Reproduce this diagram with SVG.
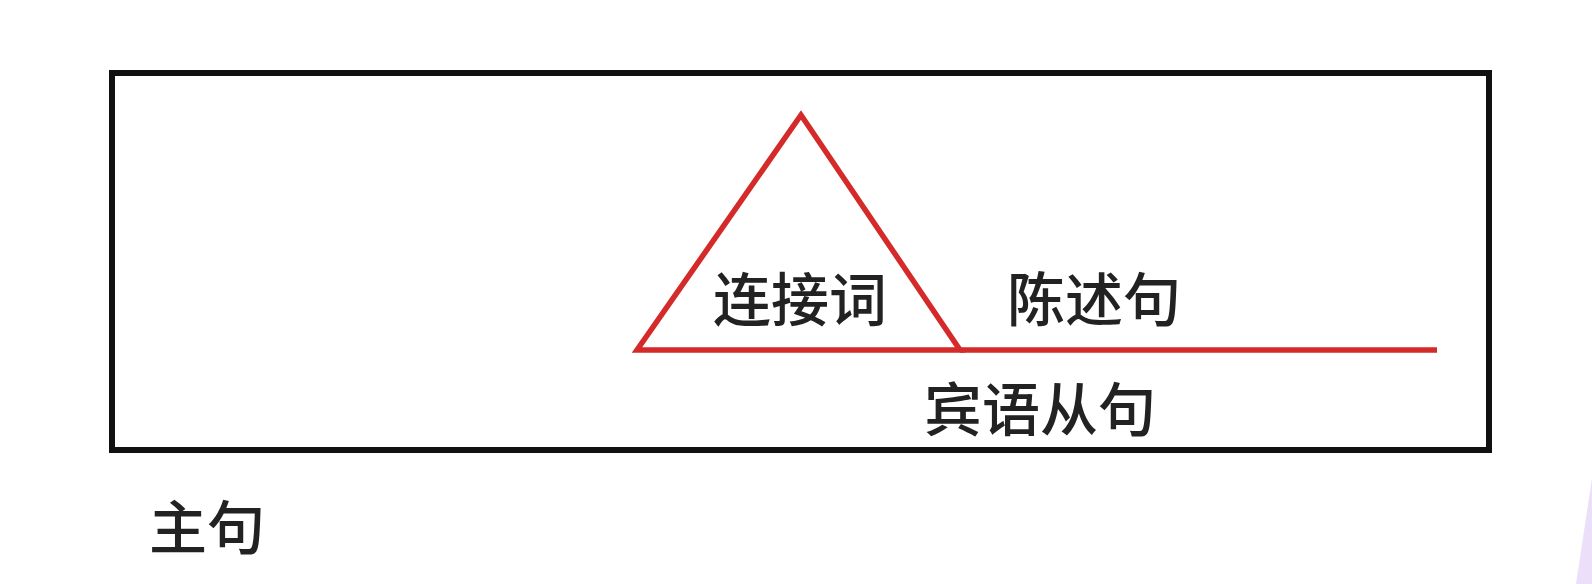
<svg xmlns="http://www.w3.org/2000/svg" width="1592" height="584" viewBox="0 0 1592 584">
<defs>
<style>
.lbl{font-family:"Noto Sans CJK SC","Noto Sans CJK TC",sans-serif;font-size:58px;font-weight:500;fill:#222;text-anchor:middle}
.red{stroke:#d42a2a;stroke-width:5.5;fill:none;stroke-linejoin:miter}
</style>
</defs>
<rect width="1592" height="584" fill="#ffffff"/>
<polygon points="1592,478 1592,584 1576,584" fill="#ecdff9"/>
<g id="main-clause">
<rect x="112" y="73" width="1377" height="377" fill="none" stroke="#111" stroke-width="6"/>
</g>
<g id="connective">
<polygon class="red" points="801,115 637,350 960,350"/>
<text class="lbl" x="800" y="321">连接词</text>
</g>
<g id="connectors">
<line class="red" x1="960" y1="350" x2="1437" y2="350"/>
</g>
<g id="statement">
<text class="lbl" x="1094" y="321">陈述句</text>
</g>
<g id="object-clause">
<text class="lbl" x="1040" y="431">宾语从句</text>
</g>
<g id="main-label">
<text class="lbl" x="207" y="549">主句</text>
</g>
</svg>
